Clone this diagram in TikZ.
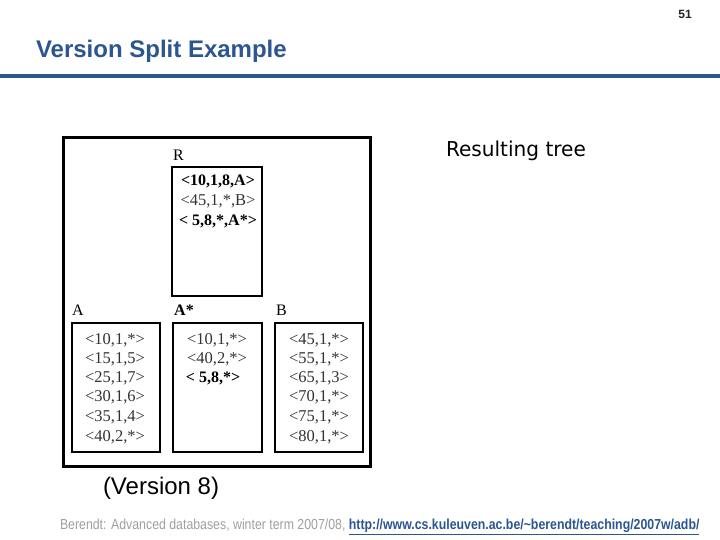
\documentclass[tikz,border=0pt]{standalone}
\usepackage{fontspec}
\setmainfont{Liberation Serif}
\setsansfont{Liberation Sans}
\newfontfamily\tahoma{DejaVu Sans}
\definecolor{titleblue}{HTML}{2B5690}
\definecolor{footgray}{HTML}{A0A0A0}
\begin{document}
\begin{tikzpicture}[x=1pt,y=-1pt,
  page/.style={inner sep=0pt,outer sep=0pt},
  leaf/.style={draw=black,line width=1.3pt,inner sep=0pt},
  outerbox/.style={draw=black,line width=3pt,inner sep=0pt},
  entry/.style={font=\fontsize{16.5}{16.5}\selectfont,text=black!80,inner sep=0pt},
  bentry/.style={font=\fontsize{16}{16}\selectfont\bfseries,text=black,inner sep=0pt},
  lab/.style={font=\fontsize{16}{16}\selectfont,anchor=west,inner sep=0pt}]
\useasboundingbox (0,0) rectangle (720,540);
\fill[white] (0,0) rectangle (720,540);
% header
\node[page,font=\sffamily\bfseries\fontsize{12}{12}\selectfont,text=black!85] (pnum) at (685,14) {51};
\node[page,font=\sffamily\bfseries\fontsize{24}{24}\selectfont,text=titleblue,anchor=west] (title) at (36,51) {Version Split Example};
\fill[titleblue] (0,74.5) rectangle (720,78.5);
% outer frame
\draw[outerbox] (63,138) rectangle (370,466);
% root
\node[lab] (Rl) at (173,155) {R};
\draw[leaf] (172,167) rectangle (262,296);
\node[bentry] (r1) at (218,181) {<10,1,8,A>};
\node[entry] (r2) at (218,201) {<45,1,*,B>};
\node[bentry] (r3) at (218,221) {< 5,8,*,A*>};
% leaves labels
\node[lab] (Al) at (72,310) {A};
\node[lab,font=\fontsize{16}{16}\selectfont\bfseries] (Asl) at (174,310) {A*};
\node[lab] (Bl) at (276,310) {B};
\draw[leaf] (72,323) rectangle (160,452);
\draw[leaf] (173,323) rectangle (262,452);
\draw[leaf] (275,323) rectangle (363,452);
% A entries
\node[entry] (a1) at (115,340) {<10,1,*>};
\node[entry] (a2) at (115,359) {<15,1,5>};
\node[entry] (a3) at (115,378) {<25,1,7>};
\node[entry] (a4) at (115,397) {<30,1,6>};
\node[entry] (a5) at (115,417) {<35,1,4>};
\node[entry] (a6) at (115,437) {<40,2,*>};
% A* entries
\node[entry] (s1) at (217,340) {<10,1,*>};
\node[entry] (s2) at (217,359) {<40,2,*>};
\node[bentry] (s3) at (213,378) {< 5,8,*>};
% B entries
\node[entry] (b1) at (319,340) {<45,1,*>};
\node[entry] (b2) at (319,359) {<55,1,*>};
\node[entry] (b3) at (319,378) {<65,1,3>};
\node[entry] (b4) at (319,397) {<70,1,*>};
\node[entry] (b5) at (319,417) {<75,1,*>};
\node[entry] (b6) at (319,437) {<80,1,*>};
% captions
\node[page,font=\tahoma\fontsize{20.5}{20.5}\selectfont,anchor=west,xscale=0.98] (res) at (446,151) {Resulting tree};
\node[page,font=\sffamily\fontsize{24}{24}\selectfont,anchor=west] (ver) at (103,488) {(Version 8)};
% footer
\node[page,anchor=west,xscale=0.85,font=\sffamily\fontsize{14.5}{14.5}\selectfont] (foot) at (60,527)
 {\textcolor{footgray}{Berendt: Advanced databases, winter term 2007/08,} \textcolor{titleblue}{\bfseries\underline{http://www.cs.kuleuven.ac.be/\textasciitilde berendt/teaching/2007w/adb/}}};
\end{tikzpicture}
\end{document}
